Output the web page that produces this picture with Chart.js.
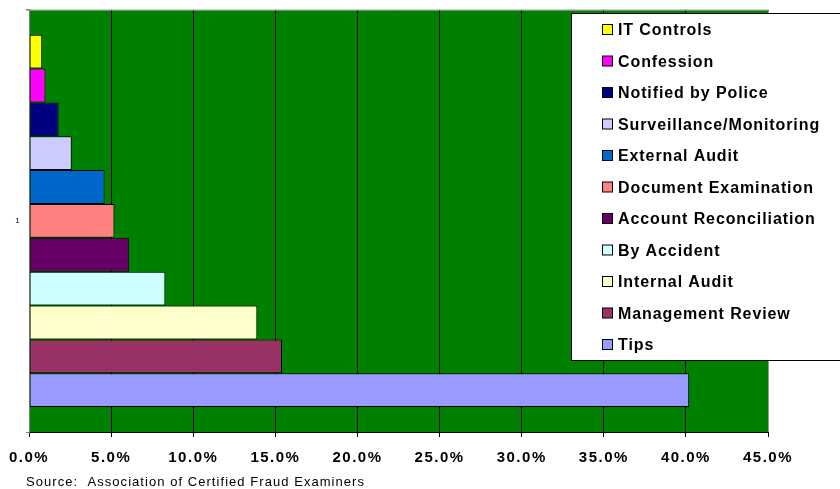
<!DOCTYPE html>
<html>
<head>
<meta charset="utf-8">
<script src="https://cdn.jsdelivr.net/npm/chart.js@4/dist/chart.umd.min.js"></script>
<style>
  html, body { margin: 0; padding: 0; background: #fff; }
  canvas { display: block; }
</style>
</head>
<body>
<canvas id="c" width="840" height="489"></canvas>
<script>
const categories = ['1'];
const seriesNames = [
  'IT Controls', 'Confession', 'Notified by Police', 'Surveillance/Monitoring',
  'External Audit', 'Document Examination', 'Account Reconciliation',
  'By Accident', 'Internal Audit', 'Management Review', 'Tips'
];
const seriesValues = [0.8, 1.0, 1.8, 2.6, 4.6, 5.2, 6.1, 8.3, 13.9, 15.4, 40.2];
const seriesColors = [
  '#FFFF00', '#FF00FF', '#000080', '#CCCCFF', '#0066CC', '#FF8080',
  '#660066', '#CCFFFF', '#FFFFCC', '#993366', '#9999FF'
];
const xTickValues = [0, 5, 10, 15, 20, 25, 30, 35, 40, 45];
const sourceText = 'Source:  Association of Certified Fraud Examiners';

const datasets = seriesNames.map((name, i) => ({
  label: name,
  data: [seriesValues[i]],
  backgroundColor: seriesColors[i],
  borderColor: '#000000',
  borderWidth: 1,
  borderSkipped: false,
  barPercentage: 1.0,
  categoryPercentage: 0.882
}));

const FONT = "'Liberation Sans', Arial, sans-serif";

const bgPlugin = {
  id: 'bg',
  beforeDraw(chart) {
    const { ctx, chartArea: a } = chart;
    ctx.save();
    ctx.fillStyle = '#ffffff';
    ctx.fillRect(0, 0, chart.width, chart.height);
    ctx.fillStyle = '#008000';
    ctx.fillRect(a.left, a.top, a.right - a.left, a.bottom - a.top);
    ctx.restore();
    ctx.letterSpacing = '1.5px';
  },
  beforeDatasetsDraw(chart) {
    const { ctx, chartArea: a } = chart;
    ctx.save();
    ctx.strokeStyle = '#999999';
    ctx.lineWidth = 1;
    ctx.beginPath();
    ctx.moveTo(a.left - 3, a.top + 0.5);
    ctx.lineTo(a.right + 0.5, a.top + 0.5);
    ctx.lineTo(a.right + 0.5, a.bottom);
    ctx.stroke();
    ctx.restore();
  },
  afterDraw(chart) {
    const ctx = chart.ctx;
    ctx.save();
    // legend box
    const bx = 571.5, by = 13.5, bw = 280, bh = 347;
    ctx.fillStyle = '#ffffff';
    ctx.fillRect(bx, by, bw, bh);
    ctx.strokeStyle = '#000000';
    ctx.lineWidth = 1;
    ctx.strokeRect(bx, by, bw, bh);
    ctx.font = 'bold 16px ' + FONT;
    ctx.letterSpacing = '0.9px';
    ctx.textBaseline = 'middle';
    ctx.textAlign = 'left';
    chart.data.datasets.forEach((ds, i) => {
      const cy = 30 + i * 31.5;
      ctx.fillStyle = ds.backgroundColor;
      ctx.fillRect(602.5, cy - 5.5, 10, 10);
      ctx.strokeStyle = '#000000';
      ctx.strokeRect(602.5, cy - 5.5, 10, 10);
      ctx.fillStyle = '#000000';
      ctx.fillText(ds.label, 618, cy + 1);
    });
    // source
    ctx.font = '13px ' + FONT;
    ctx.letterSpacing = '1.05px';
    ctx.fillText(sourceText, 26, 482);
    ctx.restore();
  }
};

new Chart(document.getElementById('c'), {
  type: 'bar',
  data: { labels: categories, datasets },
  options: {
    indexAxis: 'y',
    responsive: false,
    animation: false,
    devicePixelRatio: 1,
    layout: { padding: { top: 8, right: 72, left: 0, bottom: 0 } },
    plugins: { legend: { display: false }, tooltip: { enabled: false } },
    scales: {
      x: {
        min: 0, max: 45,
        afterBuildTicks(scale) { scale.ticks = xTickValues.map(v => ({ value: v })); },
        afterFit(scale) { scale.height = 57; },
        ticks: {
          callback: v => Number(v).toFixed(1) + '%',
          font: { family: FONT, size: 15, weight: 'bold' },
          color: '#000000',
          padding: 12,
          maxRotation: 0,
          autoSkip: false
        },
        grid: { color: '#000000', tickLength: 5, lineWidth: 1 },
        border: { color: '#000000' }
      },
      y: {
        afterFit(scale) { scale.width = 29; },
        ticks: {
          font: { family: FONT, size: 8 },
          color: '#000000',
          padding: 5
        },
        grid: { drawOnChartArea: false, tickLength: 3, color: '#808080', offset: true },
        border: { color: '#808080' }
      }
    }
  },
  plugins: [bgPlugin]
});
</script>
</body>
</html>
